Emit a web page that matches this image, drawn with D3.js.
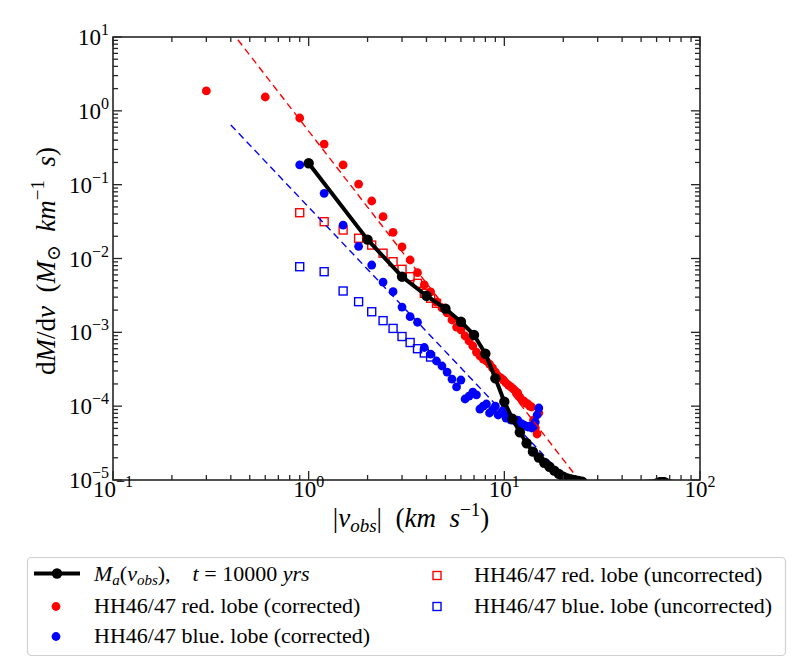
<!DOCTYPE html>
<html>
<head>
<meta charset="utf-8">
<script src="https://cdn.jsdelivr.net/npm/d3@7"></script>
<style>
  body { margin: 0; background: #fff; }
  svg { font-family: "Liberation Serif", "DejaVu Serif", serif; }
</style>
</head>
<body>
<svg id="chart" width="800" height="661"></svg>
<script>
/*** DATA ***/
//accretion model curve, t = 10000 yrs
var maVel  = [1, 2, 3, 4, 5, 6, 7, 8, 9, 10, 11, 12, 13, 14, 15, 16, 17, 18, 19, 20, 21, 22, 23, 24, 25];
var maMass = [0.195, 0.018, 0.00567, 0.00313, 0.00209, 0.00139, 0.00092, 0.000513, 0.000238, 0.000115,
              6.74e-5, 4.44e-5, 3.15e-5, 2.42e-5, 2.02e-5, 1.71e-5, 1.51e-5, 1.34e-5, 1.21e-5, 1.11e-5,
              1.05e-5, 1.02e-5, 0.99e-5, 0.97e-5, 0.95e-5];
//tail of the model curve, mostly under the axis
var maTailVel  = [25, 40, 58, 62, 66, 70, 80];
var maTailMass = [0.95e-5, 0.9e-5, 0.96e-5, 1.03e-5, 1.03e-5, 0.96e-5, 0.9e-5];

//HH46/47 red lobe (corrected)
var redVel  = [0.3, 0.6, 0.9, 1.2, 1.5, 1.8, 2.1, 2.4, 2.7, 3.0, 3.3, 3.6, 3.9, 4.2, 4.5, 4.8, 5.1, 5.4, 5.7, 6.0,
               6.3, 6.6, 6.9, 7.2, 7.5, 7.8, 8.1, 8.4, 8.7, 9.0, 9.3, 9.6, 9.9, 10.2, 10.5, 10.8, 11.1, 11.4, 11.7, 12.0,
               12.3, 12.6, 12.9, 13.2, 13.5, 13.8, 14.1, 14.4, 14.7, 15.0];
var redMass = [1.86, 1.54, 0.80, 0.355, 0.185, 0.102, 0.0601, 0.0368, 0.0226, 0.0144, 0.00954, 0.00642, 0.00438, 0.00352, 0.00257, 0.00214, 0.00183, 0.00147, 0.00118, 0.00108,
               0.000892, 0.000763, 0.000653, 0.000541, 0.000478, 0.000435, 0.000409, 0.000372, 0.000329, 0.00029, 0.000256, 0.000241, 0.000226, 0.000206, 0.000193, 0.000182, 0.000171, 0.00016, 0.000151, 0.000133,
               0.000121, 0.000117, 0.00011, 0.000107, 0.0001, 9.74e-5, 6.49e-5, 5.06e-5, 4.2e-5, 8.08e-5];

//HH46/47 blue lobe (corrected)
var blueVel  = [0.9, 1.2, 1.5, 1.8, 2.1, 2.4, 2.7, 3.0, 3.3, 3.6, 3.9, 4.2, 4.5, 4.8, 5.1, 5.4, 5.7, 6.0,
                6.3, 6.6, 6.9, 7.2, 7.5, 7.8, 8.1, 8.4, 8.7, 9.0, 9.3, 9.6, 9.9, 10.2, 10.5, 10.8, 11.1, 11.4, 11.7, 12.0,
                12.3, 12.6, 12.9, 13.2, 13.5, 13.8, 14.1, 14.4, 14.7, 15.0];
var blueMass = [0.185, 0.0764, 0.0284, 0.0146, 0.00816, 0.0048, 0.00355, 0.0022, 0.00163, 0.00137, 0.000623, 0.000508, 0.000409, 0.00035, 0.00029, 0.000233, 0.000182, 0.000226,
                0.000125, 0.000137, 0.000155, 0.000142, 9.15e-5, 0.0001, 0.000107, 8.08e-5, 8.87e-5, 0.0001, 7.59e-5, 8.08e-5, 8.87e-5, 6.91e-5, 7.35e-5, 6.49e-5, 6.7e-5, 6.29e-5, 6.49e-5, 5.91e-5,
                5.73e-5, 5.55e-5, 5.38e-5, 5.22e-5, 5.38e-5, 5.06e-5, 5.38e-5, 6.1e-5, 7.59e-5, 9.44e-5];

//uncorrected lobes
var redUncVel  = [0.9, 1.2, 1.5, 1.8, 2.1, 2.4, 2.7, 3.0, 3.3, 3.6, 3.9, 4.2, 4.5];
var redUncMass = [0.0417, 0.0315, 0.0243, 0.0188, 0.0152, 0.0118, 0.00905, 0.00714, 0.00567, 0.00461, 0.00338, 0.0029, 0.00247];
var blueUncVel  = [0.9, 1.2, 1.5, 1.8, 2.1, 2.4, 2.7, 3.0, 3.3, 3.6, 3.9, 4.2];
var blueUncMass = [0.00774, 0.00663, 0.00363, 0.0026, 0.0019, 0.00144, 0.00113, 0.000878, 0.000728, 0.0006, 0.000525, 0.000463];

//power-law fits (dashed), end points
var redFitVel  = [0.4, 25];
var redFitMass = [12.2, 8.8e-6];
var blueFitVel  = [0.4, 25];
var blueFitMass = [0.643, 6.1e-6];

//axes
var xDomain = [0.1, 100];
var yDomain = [1e-5, 10];
var xTickExp = [-1, 0, 1, 2];
var yTickExp = [-5, -4, -3, -2, -1, 0, 1];

var colorRed = '#ff0000';
var colorBlue = '#0000ff';
var axisColor = '#262626';

/*** SETUP ***/
var svg = d3.select('#chart');
var plotLeft = 113, plotRight = 700, plotTop = 37, plotBottom = 480;

var x = d3.scaleLog().domain(xDomain).range([plotLeft, plotRight]);
var y = d3.scaleLog().domain(yDomain).range([plotBottom, plotTop]);

function zip(xs, ys) {
  return xs.map(function(v, i) { return { v: v, m: ys[i] }; });
}

svg.append('defs').append('clipPath')
  .attr('id', 'plot-clip')
  .append('rect')
  .attr('x', plotLeft).attr('y', plotTop)
  .attr('width', plotRight - plotLeft).attr('height', plotBottom - plotTop);

var plot = svg.append('g').attr('clip-path', 'url(#plot-clip)');

var line = d3.line()
  .x(function(d) { return x(d.v); })
  .y(function(d) { return y(d.m); });

/*** MARKS ***/
function drawSquares(data, color) {
  plot.append('g').selectAll('rect')
    .data(data)
    .enter().append('rect')
    .attr('x', function(d) { return x(d.v) - 4; })
    .attr('y', function(d) { return y(d.m) - 4; })
    .attr('width', 8)
    .attr('height', 8)
    .attr('fill', 'none')
    .attr('stroke', color)
    .attr('stroke-width', 1.4);
}

function drawDots(data, color, r) {
  plot.append('g').selectAll('circle')
    .data(data)
    .enter().append('circle')
    .attr('cx', function(d) { return x(d.v); })
    .attr('cy', function(d) { return y(d.m); })
    .attr('r', r)
    .attr('fill', color);
}

function drawFit(data, color) {
  plot.append('path')
    .datum(data)
    .attr('d', line)
    .attr('fill', 'none')
    .attr('stroke', color)
    .attr('stroke-width', 1.4)
    .attr('stroke-dasharray', '7,4.5');
}

drawSquares(zip(redUncVel, redUncMass), colorRed);
drawSquares(zip(blueUncVel, blueUncMass), colorBlue);
drawDots(zip(redVel, redMass), colorRed, 4.4);
drawDots(zip(blueVel, blueMass), colorBlue, 4.4);
drawFit(zip(redFitVel, redFitMass), colorRed);
drawFit(zip(blueFitVel, blueFitMass), colorBlue);

//model curve
plot.append('path')
  .datum(zip(maTailVel, maTailMass))
  .attr('d', line)
  .attr('fill', 'none')
  .attr('stroke', '#000')
  .attr('stroke-width', 4);
plot.append('path')
  .datum(zip(maVel, maMass))
  .attr('d', line)
  .attr('fill', 'none')
  .attr('stroke', '#000')
  .attr('stroke-width', 4)
  .attr('stroke-linejoin', 'round');
drawDots(zip(maVel, maMass), '#000', 5.2);

/*** AXES ***/
function minorTicks(domain) {
  var ticks = [];
  var lo = Math.round(Math.log10(domain[0])), hi = Math.round(Math.log10(domain[1]));
  for (var e = lo; e < hi; e++) {
    for (var k = 2; k <= 9; k++) ticks.push(k * Math.pow(10, e));
  }
  return ticks;
}

var frame = svg.append('g')
  .attr('stroke', axisColor)
  .attr('stroke-width', 1.3);

//ticks pointing inward on all four sides
function drawXTicks(vals, len) {
  vals.forEach(function(v) {
    var px = x(v);
    frame.append('line').attr('x1', px).attr('x2', px).attr('y1', plotBottom).attr('y2', plotBottom - len);
    frame.append('line').attr('x1', px).attr('x2', px).attr('y1', plotTop).attr('y2', plotTop + len);
  });
}
function drawYTicks(vals, len) {
  vals.forEach(function(v) {
    var py = y(v);
    frame.append('line').attr('x1', plotLeft).attr('x2', plotLeft + len).attr('y1', py).attr('y2', py);
    frame.append('line').attr('x1', plotRight).attr('x2', plotRight - len).attr('y1', py).attr('y2', py);
  });
}
drawXTicks(minorTicks(xDomain), 5);
drawXTicks(xTickExp.map(function(e) { return Math.pow(10, e); }), 9);
drawYTicks(minorTicks(yDomain), 5);
drawYTicks(yTickExp.map(function(e) { return Math.pow(10, e); }), 9);

frame.append('rect')
  .attr('x', plotLeft).attr('y', plotTop)
  .attr('width', plotRight - plotLeft).attr('height', plotBottom - plotTop)
  .attr('fill', 'none')
  .attr('stroke-width', 1.6);

function powLabel(sel, e) {
  sel.append('tspan').text('10');
  sel.append('tspan')
    .attr('dy', -10)
    .attr('font-size', 16)
    .text(e < 0 ? '\u2212' + (-e) : e);
}

xTickExp.forEach(function(e) {
  var t = svg.append('text')
    .attr('x', x(Math.pow(10, e)))
    .attr('y', 497)
    .attr('text-anchor', 'middle')
    .attr('font-size', 23)
    .attr('fill', '#000');
  powLabel(t, e);
});

yTickExp.forEach(function(e) {
  var t = svg.append('text')
    .attr('x', 109)
    .attr('y', y(Math.pow(10, e)) + 8)
    .attr('text-anchor', 'end')
    .attr('font-size', 23)
    .attr('fill', '#000');
  powLabel(t, e);
});

//axis titles
var xt = svg.append('text')
  .attr('x', 411).attr('y', 527)
  .attr('text-anchor', 'middle')
  .attr('font-size', 27);
xt.append('tspan').text('|');
xt.append('tspan').attr('font-style', 'italic').text('v');
xt.append('tspan').attr('font-style', 'italic').attr('font-size', 19).attr('dy', 5).text('obs');
xt.append('tspan').attr('dy', -5).text('|\u2002(');
xt.append('tspan').attr('font-style', 'italic').text('km\u2002s');
xt.append('tspan').attr('font-size', 19).attr('dy', -11).text('\u22121');
xt.append('tspan').attr('dy', 11).text(')');

var yt = svg.append('text')
  .attr('transform', 'translate(55,261) rotate(-90)')
  .attr('text-anchor', 'middle')
  .attr('font-size', 27);
yt.append('tspan').text('d');
yt.append('tspan').attr('font-style', 'italic').text('M');
yt.append('tspan').text('/d');
yt.append('tspan').attr('font-style', 'italic').text('v');
yt.append('tspan').text('\u2002(');
yt.append('tspan').attr('font-style', 'italic').text('M');
yt.append('tspan').attr('font-size', 19).attr('dy', 5).text('\u2299');
yt.append('tspan').attr('font-style', 'italic').attr('dy', -5).text('\u2002km');
yt.append('tspan').attr('font-size', 19).attr('dy', -11).text('\u22121');
yt.append('tspan').attr('font-style', 'italic').attr('dy', 11).text('\u2002s');
yt.append('tspan').text(')');

/*** LEGEND ***/
var legend = svg.append('g').attr('class', 'legend');
legend.append('rect')
  .attr('x', 27.5).attr('y', 557.5)
  .attr('width', 758).attr('height', 98)
  .attr('rx', 4)
  .attr('fill', '#fff')
  .attr('stroke', '#d0d0d0')
  .attr('stroke-width', 1.2);

function legendText(xp, yp) {
  return legend.append('text')
    .attr('x', xp).attr('y', yp)
    .attr('font-size', 22)
    .attr('fill', '#000');
}

//model curve entry
legend.append('line')
  .attr('x1', 34).attr('x2', 80).attr('y1', 573.5).attr('y2', 573.5)
  .attr('stroke', '#000').attr('stroke-width', 4);
legend.append('circle').attr('cx', 57).attr('cy', 573.5).attr('r', 5.2).attr('fill', '#000');
var lt = legendText(94, 581);
lt.append('tspan').attr('font-style', 'italic').text('M');
lt.append('tspan').attr('font-style', 'italic').attr('font-size', 15).attr('dy', 4).text('a');
lt.append('tspan').attr('dy', -4).text('(');
lt.append('tspan').attr('font-style', 'italic').text('v');
lt.append('tspan').attr('font-style', 'italic').attr('font-size', 15).attr('dy', 4).text('obs');
lt.append('tspan').attr('dy', -4).text('),\u2003');
lt.append('tspan').attr('font-style', 'italic').text('t');
lt.append('tspan').text(' = 10000 ');
lt.append('tspan').attr('font-style', 'italic').text('yrs');

legend.append('circle').attr('cx', 56).attr('cy', 606.5).attr('r', 4.4).attr('fill', colorRed);
legendText(94, 613).text('HH46/47 red. lobe (corrected)');
legend.append('circle').attr('cx', 56).attr('cy', 636.5).attr('r', 4.4).attr('fill', colorBlue);
legendText(94, 643).text('HH46/47 blue. lobe (corrected)');

legend.append('rect').attr('x', 433).attr('y', 571.5).attr('width', 8).attr('height', 8)
  .attr('fill', 'none').attr('stroke', colorRed).attr('stroke-width', 1.4);
legendText(474, 582).text('HH46/47 red. lobe (uncorrected)');
legend.append('rect').attr('x', 433).attr('y', 602.5).attr('width', 8).attr('height', 8)
  .attr('fill', 'none').attr('stroke', colorBlue).attr('stroke-width', 1.4);
legendText(474, 613).text('HH46/47 blue. lobe (uncorrected)');
</script>
</body>
</html>
